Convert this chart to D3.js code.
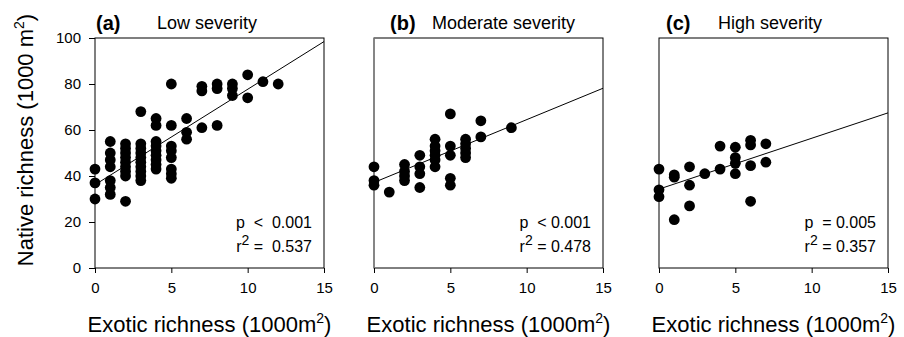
<!DOCTYPE html>
<html>
<head>
<meta charset="utf-8">
<script src="https://cdn.jsdelivr.net/npm/d3@7"></script>
<style>
  body { margin: 0; background: #fff; }
  svg { display: block; font-family: "Liberation Sans", Arial, sans-serif; }
</style>
</head>
<body>
<svg id="chart"></svg>
<script>
const panelTags = ["(a)", "(b)", "(c)"];
const severities = ["Low severity", "Moderate severity", "High severity"];

// exotic richness (x) and native richness (y) per plot
const lowX = [0, 0, 0,
  1, 1, 1, 1, 1, 1, 1,
  2, 2, 2, 2, 2, 2, 2, 2, 2,
  3, 3, 3, 3, 3, 3, 3, 3, 3, 3,
  4, 4, 4, 4, 4, 4, 4, 4, 4,
  5, 5, 5, 5, 5, 5, 5, 5,
  6, 6, 6, 7, 7, 7, 8, 8, 8, 9, 9, 9, 10, 10, 11, 12];
const lowY = [43, 37, 30,
  55, 50, 47, 44, 38, 35, 32,
  54, 52, 50, 48, 46, 44, 42, 40, 29,
  68, 54, 52, 50, 48, 46, 44, 42, 40, 38,
  65, 62, 55, 53, 51, 49, 47, 45, 43,
  80, 62, 53, 51, 48, 43, 41, 39,
  65, 59, 56, 79, 77, 61, 80, 78, 62, 80, 78, 75, 84, 74, 81, 80];

const modX = [0, 0, 0, 1, 2, 2, 2, 2, 3, 3, 3, 3,
  4, 4, 4, 4, 4, 4, 5, 5, 5, 5, 5, 6, 6, 6, 6, 6, 7, 7, 9];
const modY = [44, 38, 36, 33, 45, 42, 40, 38, 49, 44, 41, 35,
  56, 53, 51, 49, 47, 44, 67, 53, 49, 39, 36, 56, 54, 52, 50, 48, 64, 57, 61];

const highX = [0, 0, 0, 1, 1, 1, 2, 2, 2, 3, 4, 4,
  5, 5, 5, 5, 6, 6, 6, 6, 7, 7];
const highY = [43, 34, 31, 40.5, 39.5, 21, 44, 36, 27, 41, 53, 43,
  52.5, 48, 45.5, 41, 55.5, 53.5, 44.5, 29, 54, 46];

// fitted regression lines
const fitIntercept = [36.2, 37.2, 34.3];
const fitSlope = [4.15, 2.73, 2.21];
const pLabels = ["p  <  0.001", "p  < 0.001", "p  = 0.005"];
const r2Labels = ["=  0.537", "= 0.478", "= 0.357"];

const xTicks = [0, 5, 10, 15];
const yTicks = [0, 20, 40, 60, 80, 100];

const width = 904, height = 337;
const panelLeft = [95, 374, 659];
const panelW = 229;
const plotTop = 38, plotBottom = 268;
const tagDx = [1, 16, 7];
const titleDx = [62, 58, 59];

const series = [[lowX, lowY], [modX, modY], [highX, highY]];

const svg = d3.select("#chart")
  .attr("width", width)
  .attr("height", height);

const y = d3.scaleLinear().domain([0, 100]).range([plotBottom, plotTop]);

series.forEach(([xs, ys], i) => {
  const left = panelLeft[i];
  const x = d3.scaleLinear().domain([0, 15]).range([left, left + panelW]);
  const g = svg.append("g");

  // frame
  g.append("rect")
    .attr("x", left).attr("y", plotTop)
    .attr("width", panelW).attr("height", plotBottom - plotTop)
    .attr("fill", "none").attr("stroke", "#000").attr("stroke-width", 1);
  if (i === 1) {
    g.append("line")
      .attr("x1", left).attr("x2", left).attr("y1", plotTop).attr("y2", plotBottom)
      .attr("stroke", "#888").attr("stroke-width", 1.5);
  }

  // x axis
  const xa = g.append("g")
    .attr("transform", `translate(0,${plotBottom})`)
    .call(d3.axisBottom(x).tickValues(xTicks).tickSize(5).tickSizeOuter(0).tickPadding(9));
  xa.select(".domain").remove();
  xa.selectAll("text").attr("font-size", 15).attr("font-family", null).attr("fill", "#000");
  xa.selectAll("line").attr("stroke", "#000");

  if (i === 0) {
    const ya = g.append("g")
      .attr("transform", `translate(${left},0)`)
      .call(d3.axisLeft(y).tickValues(yTicks).tickSize(6).tickSizeOuter(0).tickPadding(8));
    ya.select(".domain").remove();
    ya.selectAll("text").attr("font-size", 15).attr("font-family", null).attr("fill", "#000");
    ya.selectAll("line").attr("stroke", "#000");
  }

  // regression line
  g.append("line")
    .attr("x1", x(0)).attr("y1", y(fitIntercept[i]))
    .attr("x2", x(15)).attr("y2", y(fitIntercept[i] + fitSlope[i] * 15))
    .attr("stroke", "#000").attr("stroke-width", 1);

  // points
  g.append("g")
    .selectAll("circle")
    .data(d3.range(xs.length))
    .join("circle")
    .attr("cx", d => x(xs[d]))
    .attr("cy", d => y(ys[d]))
    .attr("r", 5.4)
    .attr("fill", "#000");

  // panel titles
  g.append("text")
    .attr("x", left + tagDx[i]).attr("y", 30)
    .attr("font-size", 20).attr("font-weight", "bold")
    .text(panelTags[i]);
  g.append("text")
    .attr("x", left + titleDx[i]).attr("y", 29)
    .attr("font-size", 18)
    .text(severities[i]);

  // stats
  const sx = left + panelW - 12;
  g.append("text")
    .attr("x", sx).attr("y", 228)
    .attr("text-anchor", "end").attr("font-size", 16)
    .style("white-space", "pre")
    .text(pLabels[i]);
  const r2 = g.append("text")
    .attr("x", sx).attr("y", 252)
    .attr("text-anchor", "end").attr("font-size", 16)
    .style("white-space", "pre");
  r2.append("tspan").text("r");
  r2.append("tspan").attr("font-size", 14).attr("dy", -7).text("2");
  r2.append("tspan").attr("dy", 7).text(" " + r2Labels[i]);

  // x title
  const xt = g.append("text")
    .attr("x", left + panelW / 2).attr("y", 332)
    .attr("text-anchor", "middle").attr("font-size", 22);
  xt.append("tspan").text("Exotic richness (1000m");
  xt.append("tspan").attr("font-size", 14).attr("dy", -9).text("2");
  xt.append("tspan").attr("dy", 9).text(")");
});

// y title
const yt = svg.append("text")
  .attr("transform", "translate(33,140) rotate(-90)")
  .attr("text-anchor", "middle").attr("font-size", 22);
yt.append("tspan").text("Native richness (1000 m");
yt.append("tspan").attr("font-size", 14).attr("dy", -9).text("2");
yt.append("tspan").attr("dy", 9).text(")");
</script>
</body>
</html>
